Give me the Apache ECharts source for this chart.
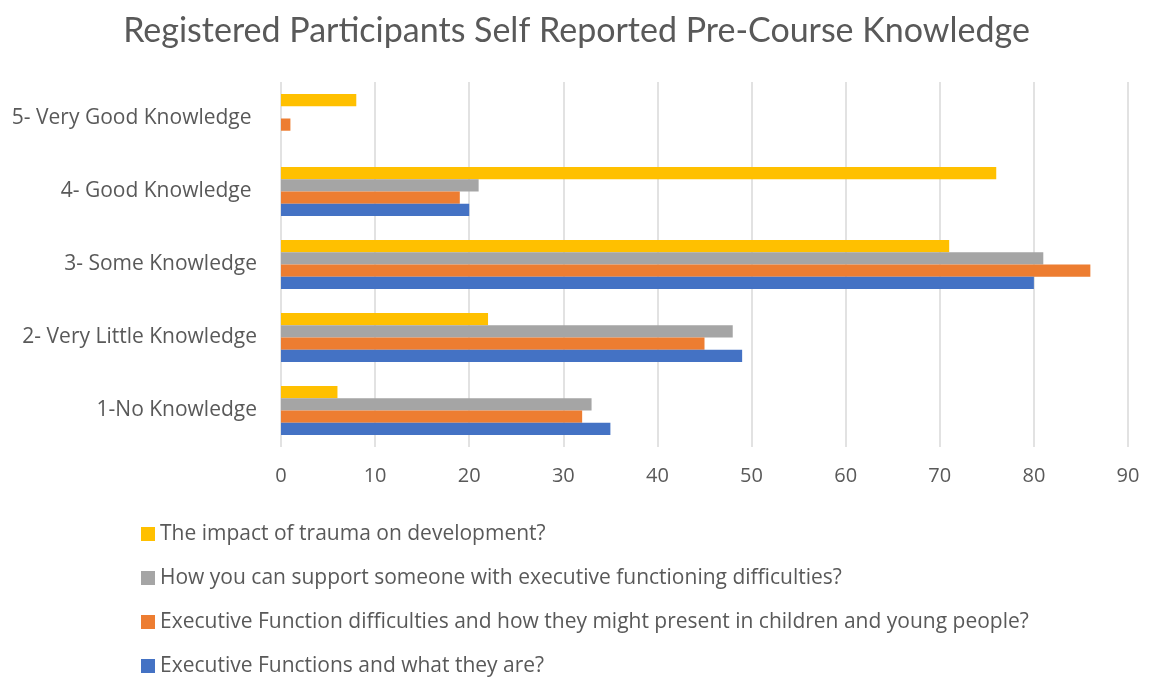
<!DOCTYPE html>
<html>
<head>
<meta charset="utf-8">
<script src="https://cdn.jsdelivr.net/npm/echarts@6/dist/echarts.min.js"></script>
<style>
  html, body { margin: 0; padding: 0; background: #fff; }
  #chart { width: 1153px; height: 679px; }
</style>
</head>
<body>
<div id="chart"></div>
<script>
  // categories bottom to top
  const categories = ["1-No Knowledge", "2- Very Little Knowledge", "3- Some Knowledge", "4- Good Knowledge ", "5- Very Good Knowledge "]
  // series in legend order (top bar of each group first)
  const seriesNames = [
    "The impact of trauma on development?",
    "How you can support someone with executive functioning difficulties?",
    "Executive Function difficulties and how they might present in children and young people?",
    "Executive Functions and what they are?"
  ]
  const traumaImpact = [6, 22, 71, 76, 8]
  const howSupport = [33, 48, 81, 21, 0]
  const howPresent = [32, 45, 86, 19, 1]
  const whatTheyAre = [35, 49, 80, 20, 0]
  const xTicks = [0, 10, 20, 30, 40, 50, 60, 70, 80, 90]

  const colors = ["#FFC000", "#A5A5A5", "#ED7D31", "#4472C4"]
  const values = [traumaImpact, howSupport, howPresent, whatTheyAre]
  const font = "'Open Sans', sans-serif"

  let myChart = echarts.init(document.getElementById("chart"))
  let option = {
    animation: false,
    title: {
      text: "Registered Participants Self Reported Pre-Course Knowledge",
      left: "center", top: 9,
      textStyle: {color: "#595959", fontSize: 34, fontWeight: "normal", fontFamily: "Lato, sans-serif"}
    },
    legend: {
      orient: "vertical", left: 141, top: 523, padding: 0,
      itemWidth: 14, itemHeight: 14, itemGap: 22,
      data: seriesNames,
      icon: "rect",
      textStyle: {color: "#595959", fontSize: 21, lineHeight: 22, fontFamily: font, padding: [0, 0, 0, 0]}
    },
    grid: {left: 281, right: 25, top: 82, height: 365},
    xAxis: {
      type: "value", min: xTicks[0], max: xTicks[xTicks.length - 1], interval: 10,
      axisLine: {show: false}, axisTick: {show: false},
      axisLabel: {color: "#595959", fontSize: 20, fontFamily: font, margin: 19},
      splitLine: {lineStyle: {color: "#d9d9d9", width: 1.5}}
    },
    yAxis: {
      type: "category", data: categories,
      axisLine: {show: false}, axisTick: {show: false},
      axisLabel: {color: "#595959", fontSize: 21, fontFamily: font, margin: 24, padding: [5, 0, 0, 0]}
    },
    series: seriesNames.map((name, i) => ({
      name: name, type: "bar", data: values[i],
      barGap: "0%", barCategoryGap: "33%",
      itemStyle: {color: colors[i]}
    }))
  }
  myChart.setOption(option)
</script>
</body>
</html>
